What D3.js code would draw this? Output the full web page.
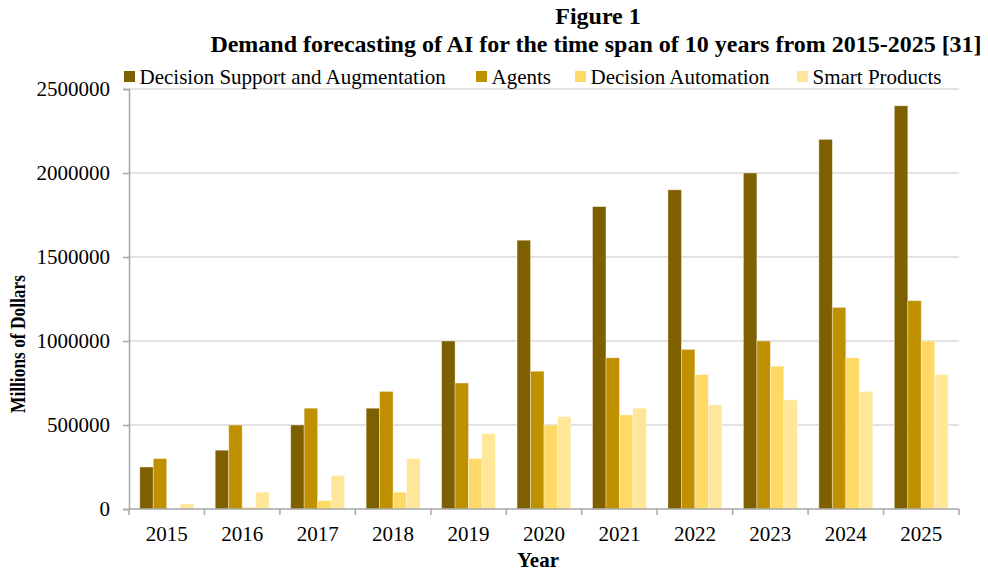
<!DOCTYPE html>
<html>
<head>
<meta charset="utf-8">
<script src="https://cdn.jsdelivr.net/npm/d3@7"></script>
<style>
  html, body { margin: 0; padding: 0; background: #fff; }
  svg { display: block; font-family: "Liberation Serif", "Times New Roman", serif; }
</style>
</head>
<body>
<svg id="chart" width="988" height="572"></svg>
<script>
// Forecast demand (millions of dollars) per year and segment
const years = ["2015","2016","2017","2018","2019","2020","2021","2022","2023","2024","2025"];
const seriesNames = ["Decision Support and Augmentation", "Agents", "Decision Automation", "Smart Products"];
const decisionSupport = [250000, 350000, 500000, 600000, 1000000, 1600000, 1800000, 1900000, 2000000, 2200000, 2400000];
const agents = [300000, 500000, 600000, 700000, 750000, 820000, 900000, 950000, 1000000, 1200000, 1240000];
const decisionAutomation = [0, 10000, 50000, 100000, 300000, 500000, 560000, 800000, 850000, 900000, 1000000];
const smartProducts = [30000, 100000, 200000, 300000, 450000, 550000, 600000, 620000, 650000, 700000, 800000];
const yTicks = [0, 500000, 1000000, 1500000, 2000000, 2500000];
const colors = ["#7F6000", "#BF9000", "#FFD966", "#FFE699"];

const seriesValues = [decisionSupport, agents, decisionAutomation, smartProducts];

const svg = d3.select("#chart");
const margin = { left: 129, right: 29, top: 89, bottom: 63 };
const W = 988, H = 572;
const plotW = W - margin.left - margin.right;
const plotH = H - margin.top - margin.bottom;

const g = svg.append("g").attr("transform", `translate(${margin.left},${margin.top})`);

const x0 = d3.scaleBand().domain(years).range([0, plotW]).paddingInner(0).paddingOuter(0);
const x1 = d3.scaleBand().domain(seriesNames).range([0, x0.bandwidth()]).paddingInner(0).paddingOuter(0.8);
const y = d3.scaleLinear().domain([0, 2500000]).range([plotH, 0]);

// Horizontal gridlines
g.append("g").selectAll("line").data(yTicks.filter(d => d > 0)).join("line")
  .attr("x1", 0).attr("x2", plotW)
  .attr("y1", d => y(d)).attr("y2", d => y(d))
  .attr("stroke", "#D9D9D9").attr("stroke-width", 1.5);

// Bars
const groups = g.append("g").selectAll("g").data(years).join("g")
  .attr("transform", d => `translate(${x0(d)},0)`);
groups.selectAll("rect")
  .data((yr, i) => seriesNames.map((name, s) => ({ name, s, v: seriesValues[s][i] })))
  .join("rect")
  .attr("x", d => x1(d.name))
  .attr("width", x1.bandwidth())
  .attr("y", d => y(d.v))
  .attr("height", d => plotH - y(d.v))
  .attr("fill", d => colors[d.s])
  .attr("stroke", "rgba(255,255,255,0.45)")
  .attr("stroke-width", 0.8);

// Y axis
const yAxis = g.append("g")
  .call(d3.axisLeft(y).tickValues(yTicks).tickFormat(d3.format("d")).tickSize(6).tickPadding(13));
yAxis.select(".domain").attr("stroke", "#A6A6A6").attr("stroke-width", 1.5);
yAxis.selectAll(".tick line").attr("stroke", "#A6A6A6").attr("stroke-width", 1.5);
yAxis.selectAll(".tick text").attr("font-size", 21).attr("fill", "#000")
  .attr("font-family", "Liberation Serif, serif");

// X axis with ticks between categories
const xAxisG = g.append("g").attr("transform", `translate(0,${plotH})`);
xAxisG.append("line").attr("x1", 0).attr("x2", plotW).attr("y1", 0).attr("y2", 0)
  .attr("stroke", "#A6A6A6").attr("stroke-width", 1.5);
const boundaries = years.map(d => x0(d)).concat([plotW]);
xAxisG.selectAll("line.tk").data(boundaries).join("line").attr("class", "tk")
  .attr("x1", d => d).attr("x2", d => d).attr("y1", 0).attr("y2", 6)
  .attr("stroke", "#A6A6A6").attr("stroke-width", 1.5);
xAxisG.selectAll("text").data(years).join("text")
  .attr("x", d => x0(d) + x0.bandwidth() / 2)
  .attr("y", 32)
  .attr("text-anchor", "middle")
  .attr("font-size", 21)
  .text(d => d);

// Axis titles
svg.append("text").attr("x", 538).attr("y", 567).attr("text-anchor", "middle")
  .attr("font-size", 21).attr("font-weight", "bold").text("Year");
svg.append("text").attr("transform", "translate(25,344) rotate(-90)").attr("text-anchor", "middle")
  .attr("font-size", 20).attr("font-weight", "bold")
  .attr("textLength", 138).attr("lengthAdjust", "spacingAndGlyphs")
  .text("Millions of Dollars");

// Title
svg.append("text").attr("x", 598).attr("y", 24).attr("text-anchor", "middle")
  .attr("font-size", 24).attr("font-weight", "bold").text("Figure 1");
svg.append("text").attr("x", 596).attr("y", 52).attr("text-anchor", "middle")
  .attr("font-size", 24).attr("font-weight", "bold")
  .text("Demand forecasting of AI for the time span of 10 years from 2015-2025 [31]");

// Legend
const legendX = [124, 476, 575, 797];
const legend = svg.append("g").selectAll("g").data(seriesNames).join("g")
  .attr("transform", (d, i) => `translate(${legendX[i]},71)`);
legend.append("rect").attr("width", 11).attr("height", 11).attr("fill", (d, i) => colors[i]);
legend.append("text").attr("x", 15.5).attr("y", 13).attr("font-size", 21).text(d => d);
</script>
</body>
</html>
